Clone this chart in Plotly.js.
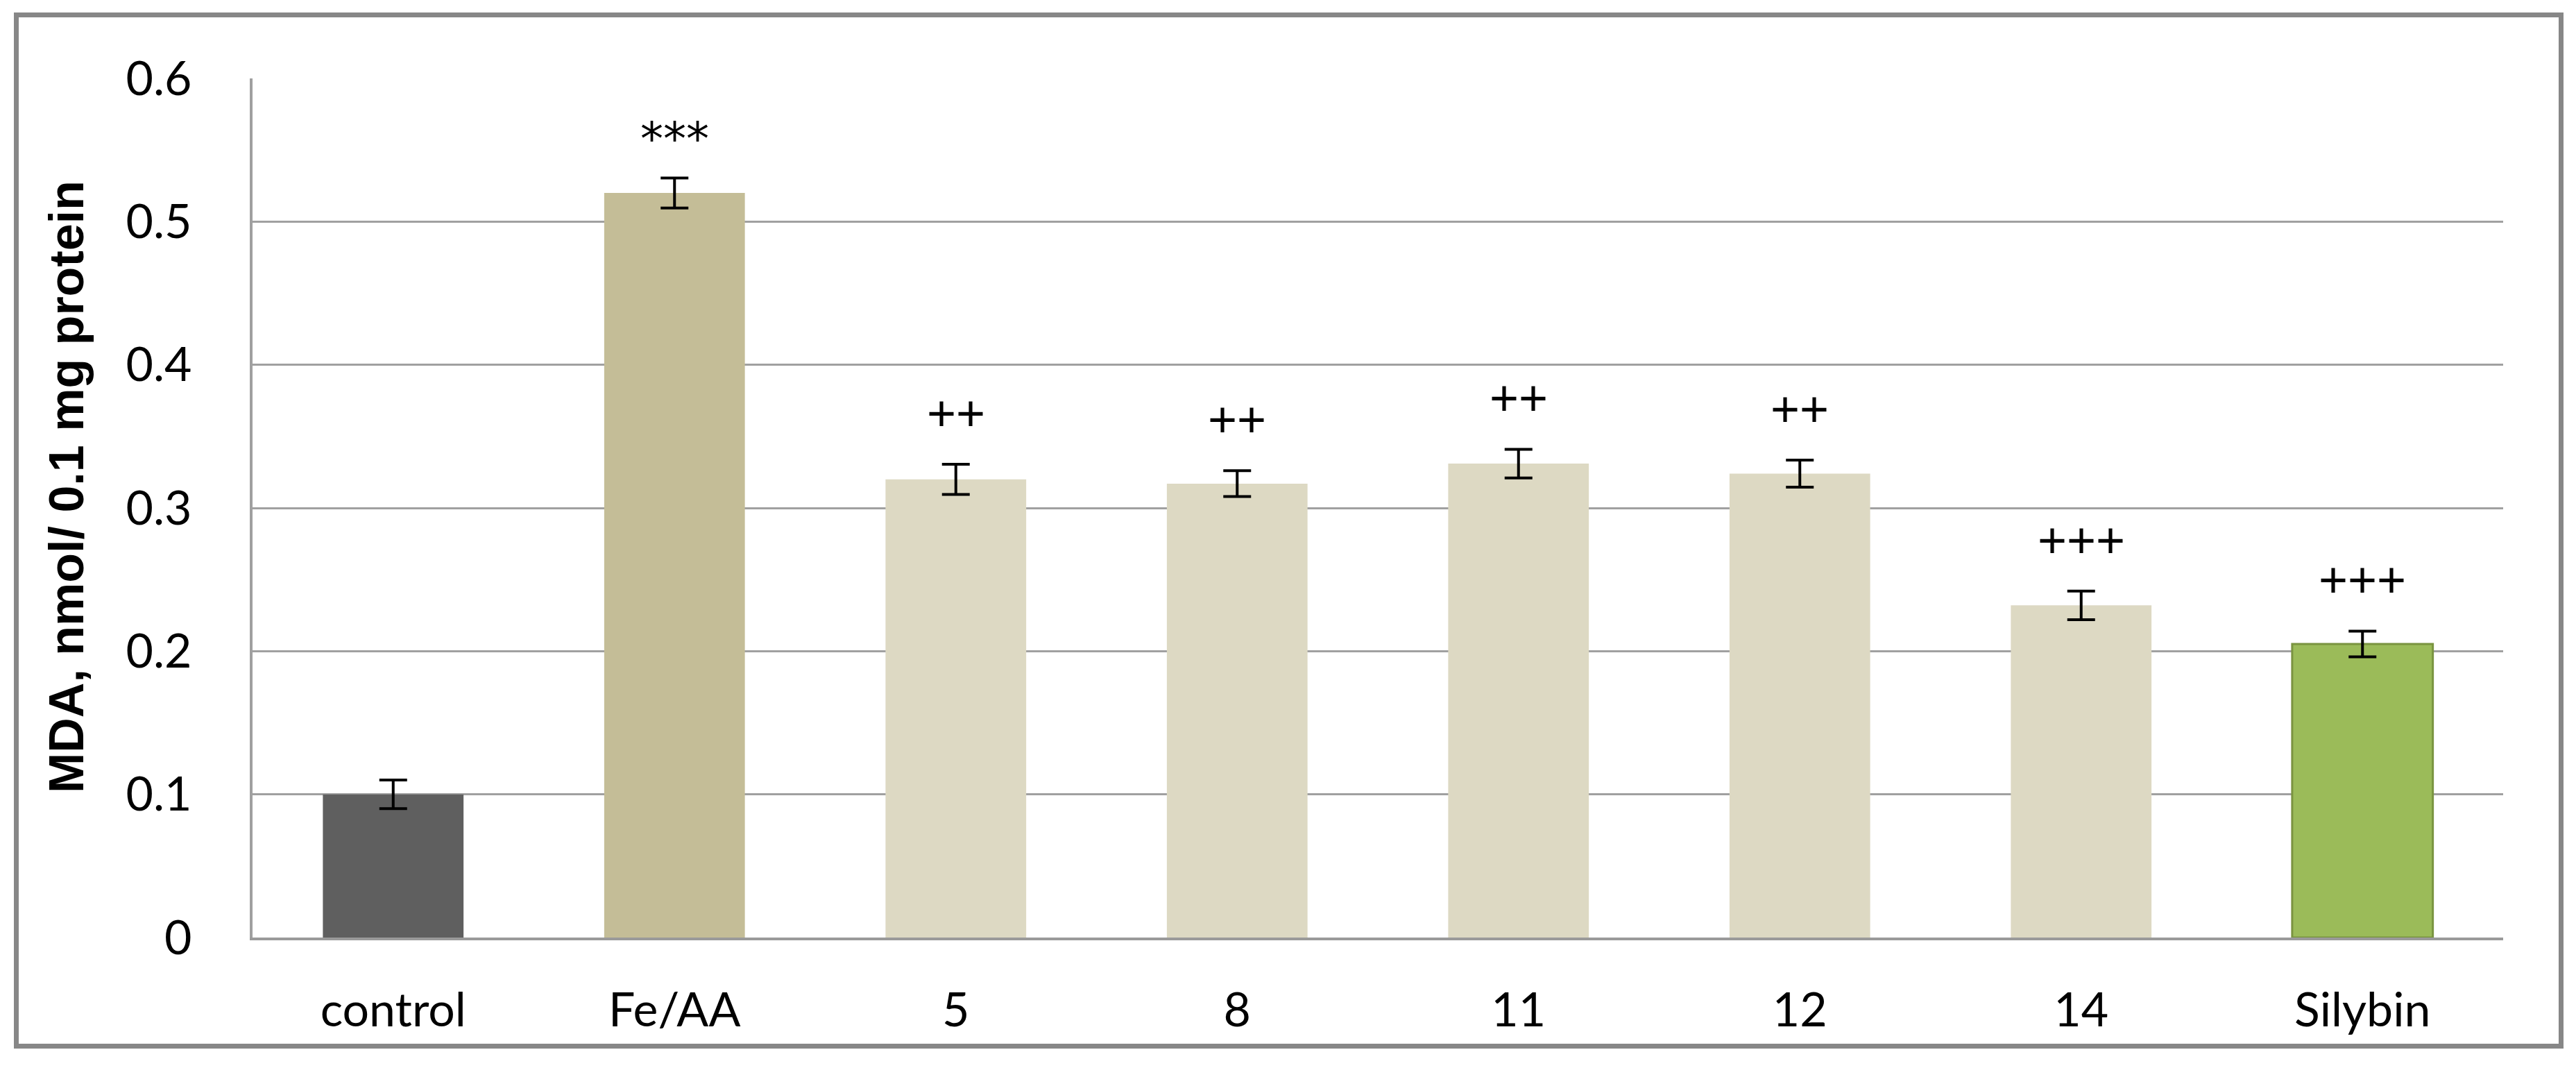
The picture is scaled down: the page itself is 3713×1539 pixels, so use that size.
<!DOCTYPE html>
<html>
<head>
<meta charset="utf-8">
<script src="https://cdn.plot.ly/plotly-3.0.1.min.js"></script>
<style>
  html, body { margin: 0; padding: 0; background: #ffffff; }
  #chart { width: 3713px; height: 1539px; }
</style>
</head>
<body>
<div id="chart"></div>
<script>
// ---- data ----
const categories = ['control', 'Fe/AA', '5', '8', '11', '12', '14', 'Silybin'];
const mdaValues  = [0.100, 0.520, 0.320, 0.317, 0.331, 0.324, 0.232, 0.205];
const mdaErrors  = [0.010, 0.0105, 0.0105, 0.009, 0.010, 0.0095, 0.010, 0.009];
const sigMarks   = ['', '***', '++', '++', '++', '++', '+++', '+++'];
const yTickVals  = [0, 0.1, 0.2, 0.3, 0.4, 0.5, 0.6];
const yTickText  = ['0', '0.1', '0.2', '0.3', '0.4', '0.5', '0.6'];
const yTitle     = 'MDA, nmol/ 0.1 mg protein';

// ---- styles ----
const barColors = ['#5f5f5f', '#c4bd97', '#ddd9c3', '#ddd9c3', '#ddd9c3', '#ddd9c3', '#ddd9c3', '#9bbb59'];
const barLineColors = ['rgba(0,0,0,0)', 'rgba(0,0,0,0)', 'rgba(0,0,0,0)', 'rgba(0,0,0,0)', 'rgba(0,0,0,0)', 'rgba(0,0,0,0)', 'rgba(0,0,0,0)', '#7a9440'];
const barLineWidths = [0, 0, 0, 0, 0, 0, 0, 3];
const labelFont = 'Lato, "Open Sans", sans-serif';

const W = 3713, H = 1539;
const M = {l: 364, r: 105, t: 113, b: 188};
const PW = W - M.l - M.r, PH = H - M.t - M.b;
const px2x = p => (p - M.l) / PW;
const px2y = p => (H - M.b - p) / PH;

const trace = {
  type: 'bar',
  x: categories,
  y: mdaValues,
  marker: { color: barColors, line: { color: barLineColors, width: barLineWidths } },
  error_y: { type: 'data', array: mdaErrors, visible: true, color: '#000000', thickness: 4, width: 20 },
  hoverinfo: 'none'
};

const annotations = [];
categories.forEach((c, i) => {
  if (!sigMarks[i]) return;
  const isStar = sigMarks[i].indexOf('*') >= 0;
  annotations.push({
    x: i, y: mdaValues[i] + mdaErrors[i], xref: 'x', yref: 'y',
    text: sigMarks[i], showarrow: false,
    xanchor: 'center', yanchor: 'middle',
    yshift: isStar ? 56 : 74,
    font: isStar
      ? { family: '"DejaVu Sans", sans-serif', size: 66, color: '#000000' }
      : { family: '"Liberation Sans", Arial, sans-serif', size: 72, color: '#000000' }
  });
});

annotations.push({
  xref: 'paper', yref: 'paper',
  x: px2x(96), y: px2y(702),
  xanchor: 'center', yanchor: 'middle',
  text: '<b>' + yTitle + '</b>', textangle: -90, showarrow: false,
  font: { family: '"Liberation Sans", Arial, sans-serif', size: 70, color: '#000000' }
});

const layout = {
  width: W, height: H,
  margin: M,
  paper_bgcolor: '#ffffff', plot_bgcolor: '#ffffff',
  showlegend: false,
  bargap: 0.5,
  xaxis: {
    type: 'category',
    range: [-0.5, categories.length - 0.5], autorange: false,
    showgrid: false, zeroline: false,
    showline: true, linecolor: '#9a9a9a', linewidth: 4,
    ticks: '', ticklabelstandoff: 42,
    tickfont: { family: labelFont, size: 68, color: '#000000' }
  },
  yaxis: {
    range: [0, 0.6], autorange: false,
    tickvals: yTickVals, ticktext: yTickText,
    showgrid: true, gridcolor: '#a0a0a0', gridwidth: 3,
    zeroline: false,
    showline: true, linecolor: '#a0a0a0', linewidth: 4,
    ticks: '', ticklabelstandoff: 70,
    tickfont: { family: labelFont, size: 68, color: '#000000' }
  },
  annotations: annotations,
  shapes: [{
    type: 'rect', xref: 'paper', yref: 'paper',
    x0: px2x(23.5), x1: px2x(3691.5), y0: px2y(1507.5), y1: px2y(21.5),
    line: { color: '#878787', width: 7 }, fillcolor: 'rgba(0,0,0,0)', layer: 'below'
  }]
};

Plotly.newPlot('chart', [trace], layout, { staticPlot: true, displayModeBar: false });
</script>
</body>
</html>
